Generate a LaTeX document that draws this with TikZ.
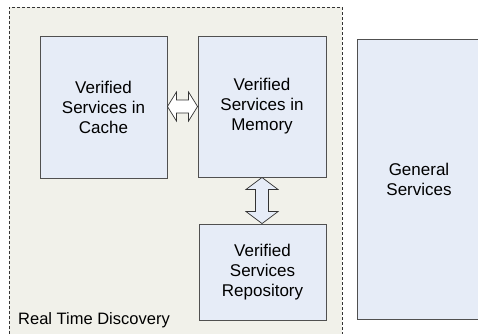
\documentclass[tikz,border=0pt]{standalone}
\usepackage{fontspec}
\setmainfont{Liberation Sans}
\usetikzlibrary{calc}
\definecolor{boxfill}{HTML}{E6ECF7}
\definecolor{envfill}{HTML}{F1F1EA}
\definecolor{boxline}{HTML}{505050}
\tikzset{
  svc/.style={draw=boxline, fill=boxfill, line width=0.9pt, align=center,
    inner sep=0pt, font=\fontsize{17}{20}\selectfont},
  envbox/.style={draw=black!80, fill=envfill, dash pattern=on 3pt off 2pt, line width=0.7pt, inner sep=0pt},
  dblarrow/.style={draw=black!80, line width=0.7pt, line join=miter},
  lbl/.style={font=\fontsize{16.5}{20}\selectfont, inner sep=0pt}
}
\begin{document}
\begin{tikzpicture}[x=1pt,y=-1pt]
\useasboundingbox (0,0) rectangle (478,333);
\node[envbox, minimum width=333pt, minimum height=340pt] (rtd) at (175.5,177) {};
\node[svc, minimum width=127pt, minimum height=142pt] (cache) at (103.5,107) {Verified\\Services in\\Cache};
\node[svc, minimum width=128pt, minimum height=141pt] (memory) at (262,106.5) {Verified\\Services in\\Memory};
\node[svc, minimum width=127pt, minimum height=96pt] (repo) at (262.5,272) {Verified\\Services\\Repository};
\node[svc, minimum width=124pt, minimum height=280pt] (general) at (419,179) {General\\Services};
\node[lbl, anchor=base west] (rtdlabel) at (18,324) {Real Time Discovery};
% horizontal double arrow
\draw[dblarrow, fill=white] let \p1=($(cache.east)+(0,-0.5)$), \p2=($(memory.west)+(0,-1)$) in
  (\x1,\y1) -- (\x1+9pt,\y1+14.5pt) -- (\x1+9pt,\y1+6.5pt) -- (\x2-9pt,\y1+6.5pt) -- (\x2-9pt,\y1+14.5pt)
  -- (\x2,\y1) -- (\x2-9pt,\y1-14.5pt) -- (\x2-9pt,\y1-6.5pt) -- (\x1+9pt,\y1-6.5pt) -- (\x1+9pt,\y1-14.5pt) -- cycle;
% vertical double arrow
\draw[dblarrow, fill=boxfill] let \p1=(memory.south), \p2=($(repo.north)+(-0.5,0)$) in
  (\x1,\y1) -- (\x1+16pt,\y1-12pt) -- (\x1+6.5pt,\y1-12pt) -- (\x1+6.5pt,\y2+12pt) -- (\x1+16pt,\y2+12pt)
  -- (\x1,\y2) -- (\x1-16pt,\y2+12pt) -- (\x1-6.5pt,\y2+12pt) -- (\x1-6.5pt,\y1-12pt) -- (\x1-16pt,\y1-12pt) -- cycle;
\end{tikzpicture}
\end{document}
